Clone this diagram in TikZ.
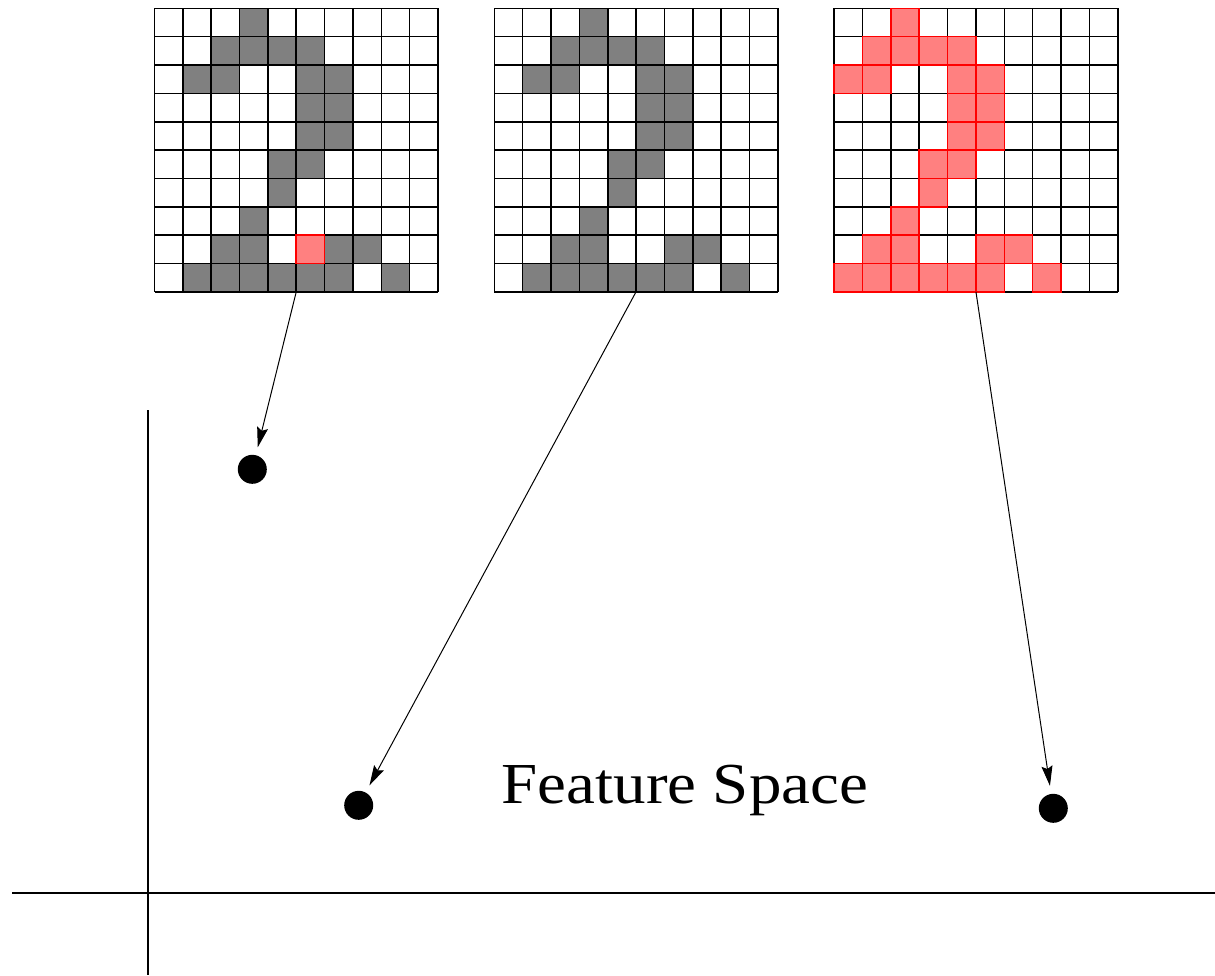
\documentclass[tikz,border=0pt]{standalone}
\usepackage{fontspec}
\setmainfont{Liberation Serif}
\usetikzlibrary{arrows.meta}

% side length of one pixel cell
\newcommand\cellsz{28.35}

% cells of the digit, as row/column pairs (row 0 at the top)
\newcommand\digitcells{0/3,1/2,1/3,1/4,1/5,2/1,2/2,2/5,2/6,3/5,3/6,4/5,4/6,5/4,5/5,6/4,7/3,8/2,8/3,8/6,8/7,9/1,9/2,9/3,9/4,9/5,9/6,9/8}

% #1,#2: top-left corner; #3: column shift; #4: cell style
\newcommand\digitgrid[4]{%
  \foreach \r/\c in \digitcells {
    \path[#4] ({#1+(\c+#3)*\cellsz},{#2+\r*\cellsz}) rectangle ++(\cellsz,\cellsz);
  }
}
\newcommand\gridlines[2]{%
  \foreach \k in {0,...,10} {
    \draw[gridline] ({#1+\k*\cellsz},#2) -- ++(0,{10*\cellsz});
    \draw[gridline] (#1,{#2+\k*\cellsz}) -- ++({10*\cellsz},0);
  }
}

\begin{document}
\begin{tikzpicture}[x=1pt,y=-1pt,
  gridline/.style={draw=black,line width=1.6pt},
  graycell/.style={fill=gray},
  redcell/.style={fill=red!50,draw=red,line width=1.6pt},
  dot/.style={circle,fill=black,inner sep=0pt,minimum size=29pt},
  axis/.style={line width=1.8pt},
  mapto/.style={line width=1pt,shorten >=8pt,-{Stealth[length=20pt,width=11pt,inset=3pt]}},
  label/.style={font=\fontsize{58}{60}\selectfont,anchor=base,inner sep=0pt,xscale=1.12}]
  \useasboundingbox (0,0) rectangle (1215,975);

  % first image: the digit with one altered pixel
  \digitgrid{154.5}{8.3}{0}{graycell}
  \gridlines{154.5}{8.3}
  \path[redcell] ({154.5+5*\cellsz},{8.3+8*\cellsz}) rectangle ++(\cellsz,\cellsz);

  % second image: the clean digit
  \digitgrid{494.3}{8.3}{0}{graycell}
  \gridlines{494.3}{8.3}

  % third image: the digit shifted one pixel to the left
  \gridlines{834.2}{8.3}
  \digitgrid{834.2}{8.3}{-1}{redcell}

  % where each image leaves from
  \coordinate (imgA) at ({154.5+5*\cellsz},{8.3+10*\cellsz});
  \coordinate (imgB) at ({494.3+5*\cellsz},{8.3+10*\cellsz});
  \coordinate (imgC) at ({834.2+5*\cellsz},{8.3+10*\cellsz});

  % points in feature space
  \node[dot] (ptA) at (252.3,469.3) {};
  \node[dot] (ptB) at (358.7,805.3) {};
  \node[dot] (ptC) at (1053.3,808.3) {};

  \draw[mapto] (imgA) -- (ptA);
  \draw[mapto] (imgB) -- (ptB);
  \draw[mapto] (imgC) -- (ptC);

  % axes
  \coordinate (yTop) at (148,410);
  \coordinate (yBot) at (148,975);
  \coordinate (xL) at (12,892.7);
  \coordinate (xR) at (1215,892.7);
  \draw[axis] (yTop) -- (yBot);
  \draw[axis] (xL) -- (xR);

  \node[label] (title) at (684.9,803.3) {Feature Space};
\end{tikzpicture}
\end{document}
